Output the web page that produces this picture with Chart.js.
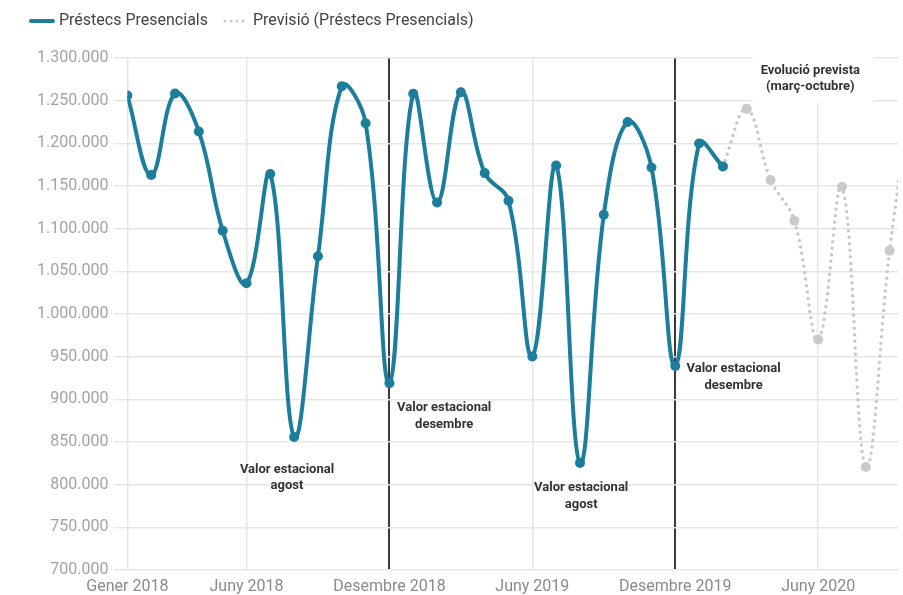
<!DOCTYPE html>
<html>
<head>
<meta charset="utf-8">
<script src="https://cdn.jsdelivr.net/npm/chart.js@4/dist/chart.umd.min.js"></script>
<style>
  html, body { margin: 0; padding: 0; background: #fff; }
  #wrap { width: 903px; height: 595px; }
</style>
</head>
<body>
<div id="wrap"><canvas id="chart-prestecs"></canvas></div>
<script>
// monthly values, Gener 2018 .. Febrer 2020
const presencialValues = [
    1256000, 1162800, 1258500, 1213800, 1097700, 1036000,
    1164000, 855900, 1067600, 1266900, 1223600, 919000,
    1258200, 1130800, 1259800, 1165100, 1132700, 950300,
    1174000, 825500, 1116400, 1225100, 1171700, 939000,
    1199800, 1172900
];

// forecast, Febrer 2020 (join point) .. Octubre 2020
const previsioStart = 25;
const previsioValues = [1172900, 1240400, 1157000, 1109400, 970200, 1149100, 820800, 1074300, 1275000];

const tickMonths = [0, 5, 11, 17, 23, 29];
const tickLabels = ['Gener 2018', 'Juny 2018', 'Desembre 2018', 'Juny 2019', 'Desembre 2019', 'Juny 2020'];
const markedMonths = [11, 23];

const notes = [
    { lines: ['Valor estacional', 'agost'], month: 6.7, value: 808000 },
    { lines: ['Valor estacional', 'desembre'], month: 13.3, value: 880000 },
    { lines: ['Valor estacional', 'agost'], month: 19.05, value: 786500 },
    { lines: ['Valor estacional', 'desembre'], month: 25.45, value: 925700 }
];
const forecastNote = { lines: ['Evolució prevista', '(març-octubre)'], month: 28.67, value: 1275400 };

const blue = '#1c7d9d';
const grey = '#c9c9c9';

function formatThousands(v) {
    return String(v).replace(/\B(?=(\d{3})+(?!\d))/g, '.');
}

function drawNote(chart, note, withBox) {
    const ctx = chart.ctx;
    const x = chart.scales.x.getPixelForValue(note.month);
    const y = chart.scales.y.getPixelForValue(note.value);
    const lh = 16.5;
    ctx.save();
    ctx.font = 'bold 13px Roboto';
    ctx.textAlign = 'center';
    ctx.textBaseline = 'middle';
    if (withBox) {
        ctx.fillStyle = '#fff';
        ctx.fillRect(x - 58, y - 24, 121, 48);
    }
    ctx.fillStyle = '#333';
    const top = y - (note.lines.length - 1) * lh / 2;
    note.lines.forEach(function (line, i) {
        ctx.fillText(line, x, top + i * lh);
    });
    ctx.restore();
}

const notesPlugin = {
    id: 'notes',
    beforeDatasetsDraw(chart) {
        drawNote(chart, forecastNote, true);
    },
    afterDatasetsDraw(chart) {
        notes.forEach(function (n) { drawNote(chart, n, false); });
    }
};

// simple legend: line swatch + label, left aligned at the top
const lineLegend = {
    id: 'lineLegend',
    afterDraw(chart) {
        const ctx = chart.ctx;
        let x = 30;
        const y = 21;
        ctx.save();
        ctx.font = '16px Roboto';
        ctx.textBaseline = 'middle';
        chart.data.datasets.forEach(function (ds) {
            ctx.beginPath();
            ctx.strokeStyle = ds.borderColor;
            ctx.lineWidth = ds.borderDash ? 3 : 4;
            ctx.lineCap = 'round';
            ctx.setLineDash(ds.borderDash ? [0, 6] : []);
            ctx.moveTo(x + 1, y);
            ctx.lineTo(x + 23, y);
            ctx.stroke();
            ctx.setLineDash([]);
            ctx.fillStyle = '#444';
            ctx.fillText(ds.label, x + 29, y);
            x += 29 + ctx.measureText(ds.label).width + 16;
        });
        ctx.restore();
    }
};

const presencialData = presencialValues.map(function (v, i) { return { x: i, y: v }; });
const previsioData = previsioValues.map(function (v, i) { return { x: previsioStart + i, y: v }; });

const config = {
    type: 'line',
    data: {
        datasets: [
            {
                label: 'Préstecs Presencials',
                data: presencialData,
                borderColor: blue,
                backgroundColor: blue,
                borderWidth: 4,
                pointRadius: 5,
                pointBorderWidth: 0,
                pointBackgroundColor: blue,
                tension: 0.4
            },
            {
                label: 'Previsió (Préstecs Presencials)',
                data: previsioData,
                borderColor: grey,
                backgroundColor: grey,
                borderWidth: 3.5,
                borderDash: [0, 6.5],
                borderCapStyle: 'round',
                pointRadius: 5,
                pointBorderWidth: 0,
                pointBackgroundColor: grey,
                tension: 0.4
            }
        ]
    },
    options: {
        responsive: true,
        maintainAspectRatio: false,
        animation: false,
        layout: { padding: { left: 31, right: 0, top: 58, bottom: 0 } },
        plugins: {
            tooltip: { enabled: false },
            legend: { display: false }
        },
        scales: {
            x: {
                type: 'linear',
                min: 0,
                max: 32.35,
                afterBuildTicks: function (scale) {
                    scale.ticks = tickMonths.map(function (m) { return { value: m }; });
                },
                afterFit: function (scale) {
                    scale.height = 25;
                },
                ticks: {
                    autoSkip: false,
                    maxRotation: 0,
                    padding: 7,
                    color: '#8a8a8a',
                    font: { family: 'Roboto', size: 16 },
                    callback: function (value) {
                        const i = tickMonths.indexOf(value);
                        return i >= 0 ? tickLabels[i] : '';
                    }
                },
                grid: {
                    drawTicks: false,
                    color: function (c) {
                        return c.tick && markedMonths.indexOf(c.tick.value) >= 0 ? '#3a3a3a' : '#e6e6e6';
                    },
                    lineWidth: function (c) {
                        return c.tick && markedMonths.indexOf(c.tick.value) >= 0 ? 2 : 1.5;
                    }
                },
                border: { display: false }
            },
            y: {
                min: 700000,
                max: 1300000,
                ticks: {
                    stepSize: 50000,
                    padding: 6,
                    color: '#a3a3a3',
                    font: { family: 'Roboto', size: 16 },
                    callback: function (value) { return formatThousands(value); }
                },
                grid: {
                    color: '#e6e6e6',
                    lineWidth: 1.5,
                    tickLength: 13
                },
                border: { display: false }
            }
        }
    },
    plugins: [notesPlugin, lineLegend]
};

const chart = new Chart(document.getElementById('chart-prestecs'), config);
</script>
</body>
</html>
